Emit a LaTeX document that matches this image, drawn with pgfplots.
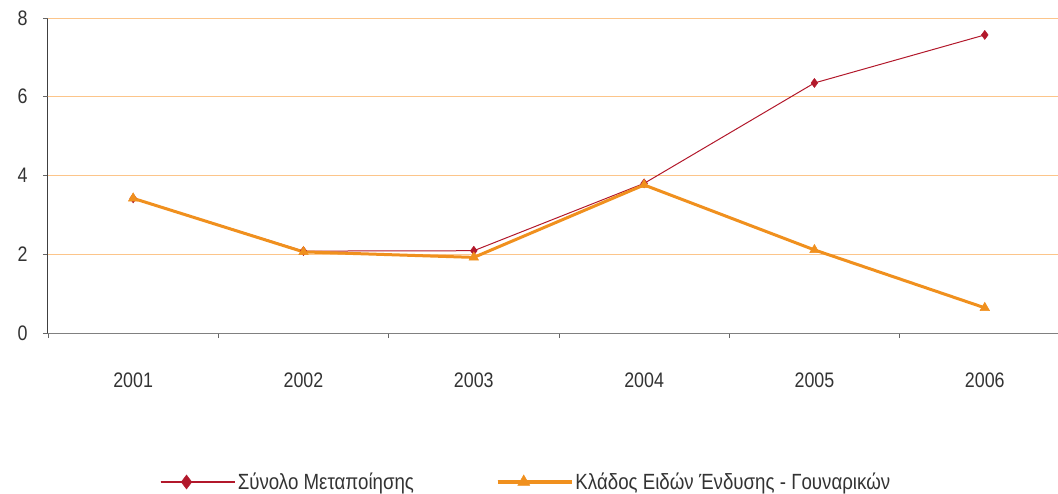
\documentclass[border=0pt]{standalone}
\usepackage{fontspec}
\setmainfont{Liberation Sans}[FakeStretch=0.85]
\usepackage{pgfplots}
\pgfplotsset{compat=1.18}
\definecolor{redS}{HTML}{B2182B}
\definecolor{orS}{HTML}{F0901E}
\definecolor{gridA}{HTML}{F5A035}
\definecolor{gridB}{HTML}{FCC58A}
\definecolor{txt}{HTML}{333333}
\begin{document}
\begin{tikzpicture}
\useasboundingbox (-48bp,-161bp) rectangle (1010bp,333bp);
\begin{axis}[
 at={(0,0)}, anchor=south west,
 width=1010bp, height=315bp, scale only axis,
 xmin=-0.5, xmax=5.43, ymin=0, ymax=8,
 /pgf/number format/assume math mode=true,
 axis x line*=bottom, axis y line*=left,
 x axis line style={-, draw=black!50, line width=1bp},
 y axis line style={-, draw=black!75, line width=1bp},
 xtick={-0.5,0.5,1.5,2.5,3.5,4.5}, xticklabels={},
 extra x ticks={0,1,2,3,4,5},
 extra x tick labels={2001,2002,2003,2004,2005,2006},
 extra x tick style={major tick length=0pt, grid=none},
 ytick={0,2,4}, extra y ticks={6,8},
 ymajorgrids,
 major grid style={draw=gridB, line width=1bp},
 extra y tick style={grid style={draw=gridA, line width=1bp}},
 tick align=outside, major tick length=5bp,
 tick style={draw=black!60, line width=0.8bp},
 tick label style={font=\fontsize{21bp}{24bp}\selectfont, text=txt},
 xticklabel style={yshift=-36bp},
 yticklabel style={xshift=-12bp},
 legend columns=2,
 legend style={at={(0.473,-0.473)}, anchor=center, draw=none, fill=none,
   font=\fontsize{22bp}{26bp}\selectfont, text=txt,
   /tikz/every even column/.append style={column sep=80bp}},
 legend image code/.code={
   \draw[mark repeat=2,mark phase=2,#1] plot coordinates {(0bp,0bp)(26bp,0bp)(52bp,0bp)};
   \path (0bp,0bp) -- (74bp,0bp);},
]
\addplot[redS, line width=1bp, mark=diamond*, mark size=4.5bp, mark options={solid, fill=redS, line width=0.5bp}, forget plot]
 coordinates {(0,3.42)(1,2.08)(2,2.09)(3,3.80)(4,6.35)(5,7.57)};
\addplot[orS, line width=3bp, mark=triangle*, mark size=5.5bp, mark options={solid, fill=orS, line width=0.5bp}, forget plot]
 coordinates {(0,3.42)(1,2.06)(2,1.92)(3,3.76)(4,2.11)(5,0.64)};
\addlegendimage{redS, line width=2.5bp, mark=diamond*, mark size=7bp, mark options={solid, fill=redS, line width=0.5bp}}
\addlegendentry{Σύνολο Μεταποίησης}
\addlegendimage{orS, line width=3.5bp, mark=triangle*, mark size=7bp, mark options={solid, fill=orS, line width=0.5bp}}
\addlegendentry{Κλάδος Ειδών Ένδυσης - Γουναρικών}
\end{axis}
\end{tikzpicture}
\end{document}
